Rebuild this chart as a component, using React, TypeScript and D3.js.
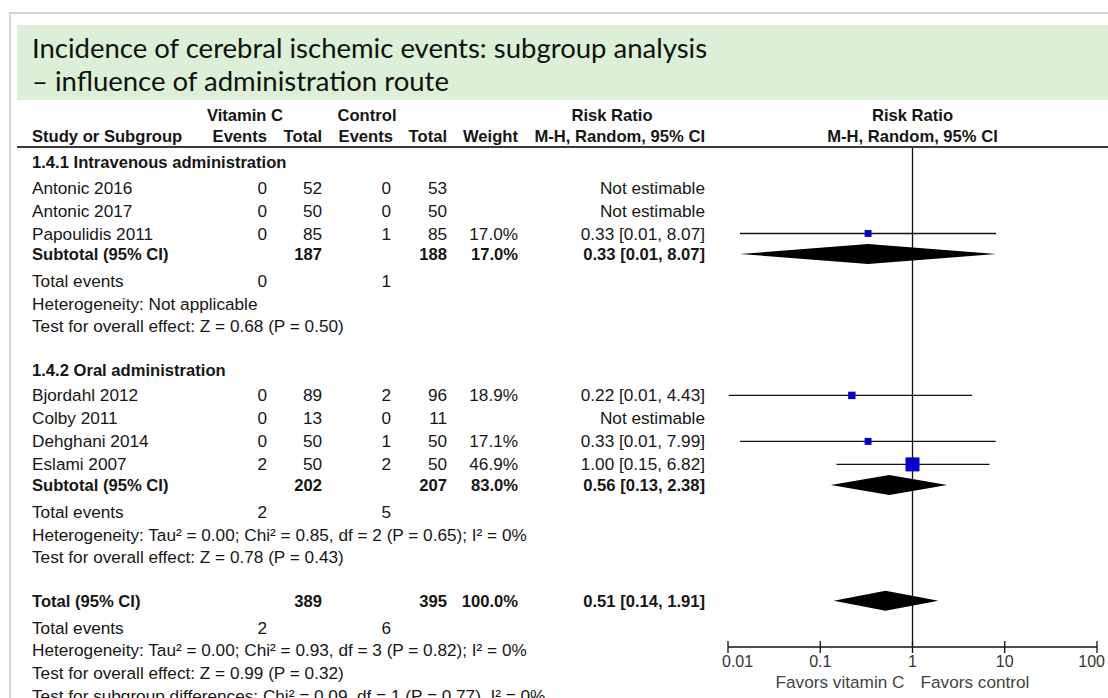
import React, { useLayoutEffect } from "react";
import * as d3 from "d3";

// title
const titleLines = [
  "Incidence of cerebral ischemic events: subgroup analysis",
  "\u2013 influence of administration route",
];

// subgroups
const subgroupLabels = ["1.4.1 Intravenous administration", "1.4.2 Oral administration"];
const subVitTotal = [187, 202];
const subCtlTotal = [188, 207];
const subWeight = [17.0, 83.0];
const subRR = [0.33, 0.56];
const subLo = [0.0135, 0.13];
const subHi = [8.07, 2.38];
const subVitEvents = [0, 2];
const subCtlEvents = [1, 5];
const subHetero = [
  "Not applicable",
  "Tau\u00b2 = 0.00; Chi\u00b2 = 0.85, df = 2 (P = 0.65); I\u00b2 = 0%",
];
const subOverall = ["Z = 0.68 (P = 0.50)", "Z = 0.78 (P = 0.43)"];

// studies
const studyLabels = ["Antonic 2016", "Antonic 2017", "Papoulidis 2011", "Bjordahl 2012", "Colby 2011", "Dehghani 2014", "Eslami 2007"];
const studyGroup = [0, 0, 0, 1, 1, 1, 1];
const vitEvents = [0, 0, 0, 0, 0, 0, 2];
const vitTotal = [52, 50, 85, 89, 13, 50, 50];
const ctlEvents = [0, 0, 1, 2, 0, 1, 2];
const ctlTotal = [53, 50, 85, 96, 11, 50, 50];
const studyWeight = [null, null, 17.0, 18.9, null, 17.1, 46.9];
const studyRR = [null, null, 0.33, 0.22, null, 0.33, 1.0];
const studyLo = [null, null, 0.0135, 0.0102, null, 0.0135, 0.15];
const studyHi = [null, null, 8.07, 4.43, null, 7.99, 6.82];

// overall
const totVitTotal = 389;
const totCtlTotal = 395;
const totWeight = 100.0;
const totRR = 0.51;
const totLo = 0.14;
const totHi = 1.91;
const totVitEvents = 2;
const totCtlEvents = 6;
const totHetero = "Tau\u00b2 = 0.00; Chi\u00b2 = 0.93, df = 3 (P = 0.82); I\u00b2 = 0%";
const totOverall = "Z = 0.99 (P = 0.32)";
const subgroupDiff = "Chi\u00b2 = 0.09, df = 1 (P = 0.77), I\u00b2 = 0%";

// axis
const axisTicks = [0.01, 0.1, 1, 10, 100];
const axisTickLabels = ["0.01", "0.1", "1", "10", "100"];
const favorsLeft = "Favors vitamin C";
const favorsRight = "Favors control";

const W = 1108;
const H = 698;
const FONT = "'Liberation Sans', Arial, sans-serif";
const FS_B = 16.6; // bold
const FS_R = 17.2; // regular
const INK = "#161616";

const f2 = d3.format(".2f");
const f1 = d3.format(".1f");
const ciText = (rr, lo, hi) => `${f2(rr)} [${f2(lo)}, ${f2(hi)}]`;

// column anchors
const col = {
  label: 32,
  vitEv: 267,
  vitTot: 322,
  ctlEv: 391,
  ctlTot: 447,
  weight: 518,
  ci: 705,
};

// build the row list
function buildRows() {
  const rows = [];
  subgroupLabels.forEach((lab, g) => {
    rows.push({ kind: "heading", text: lab });
    studyLabels.forEach((s, i) => {
      if (studyGroup[i] === g) rows.push({ kind: "study", i });
    });
    rows.push({ kind: "subtotal", g });
    rows.push({ kind: "events", vit: subVitEvents[g], ctl: subCtlEvents[g] });
    rows.push({ kind: "info", text: "Heterogeneity: " + subHetero[g] });
    rows.push({ kind: "info", text: "Test for overall effect: " + subOverall[g] });
  });
  rows.push({ kind: "total" });
  rows.push({ kind: "events", vit: totVitEvents, ctl: totCtlEvents });
  rows.push({ kind: "info", text: "Heterogeneity: " + totHetero });
  rows.push({ kind: "info", text: "Test for overall effect: " + totOverall });
  rows.push({ kind: "info", text: "Test for subgroup differences: " + subgroupDiff });

  // vertical advance depends on what follows what
  const step = (prev, cur) => {
    if (prev === "heading") return 25.5;
    if (prev === "study" && cur === "study") return 23;
    if (prev === "study") return 20.5;
    if (prev === "subtotal" || prev === "total") return 26.8;
    if (cur === "heading" || cur === "total") return 43.5;
    return 22.8;
  };
  let y = 162;
  rows.forEach((r, k) => {
    if (k > 0) y += step(rows[k - 1].kind, r.kind);
    r.y = y;
  });
  return rows;
}

const x = d3.scaleLog().domain([0.01, 100]).range([728, 1097]);
const boxSize = d3.scalePow().exponent(0.7).domain([0, 46.9]).range([0, 14]);

const T = ({ x, y, anchor = "start", bold = false, children, size = null, fill = INK }) => (
  <text
    x={x}
    y={y}
    textAnchor={anchor}
    fontWeight={bold ? "bold" : "normal"}
    fontSize={size ?? (bold ? FS_B : FS_R)}
    fontFamily={FONT}
    fill={fill}
  >
    {children}
  </text>
);

const Diamond = ({ rr, lo, hi, cy }) => {
  const pts = [
    [x(lo), cy],
    [x(rr), cy - 10],
    [x(hi), cy],
    [x(rr), cy + 10],
  ];
  return <path d={d3.line()(pts) + "Z"} fill="#000" />;
};

const App = () => {
  useLayoutEffect(() => {
    document.body.style.margin = "0";
  }, []);

  const rows = buildRows();
  const axisY = 647;
  const base = 6; // baseline offset from row centre

  return (
    <svg width={W} height={H} style={{ display: "block", background: "#fff" }}>
      {/* slide frame and title band */}
      <rect x={10} y={13} width={W} height={H} fill="none" stroke="#d4d4d4" strokeWidth={2} />
      <rect x={17} y={25} width={W - 17} height={75} fill="#dcefd7" />
      {titleLines.map((t, i) => (
        <text key={i} x={32} y={58 + i * 33} fontFamily="Lato, 'Open Sans', sans-serif" fontSize={27.5} fill="#111">
          {t}
        </text>
      ))}

      {/* header */}
      <T x={245} y={121} anchor="middle" bold>Vitamin C</T>
      <T x={367} y={121} anchor="middle" bold>Control</T>
      <T x={612} y={121} anchor="middle" bold>Risk Ratio</T>
      <T x={x(1)} y={121} anchor="middle" bold>Risk Ratio</T>
      <T x={col.label} y={142} bold>Study or Subgroup</T>
      <T x={col.vitEv} y={142} anchor="end" bold>Events</T>
      <T x={col.vitTot} y={142} anchor="end" bold>Total</T>
      <T x={col.ctlEv + 2} y={142} anchor="end" bold>Events</T>
      <T x={col.ctlTot} y={142} anchor="end" bold>Total</T>
      <T x={col.weight} y={142} anchor="end" bold>Weight</T>
      <T x={col.ci} y={142} anchor="end" bold>M-H, Random, 95% CI</T>
      <T x={x(1)} y={142} anchor="middle" bold>M-H, Random, 95% CI</T>
      <line x1={17} x2={W} y1={147} y2={147} stroke="#3a3a3a" strokeWidth={2.2} />

      {/* line of no effect */}
      <line x1={x(1)} x2={x(1)} y1={148} y2={axisY} stroke="#111" strokeWidth={1.3} />

      {rows.map((r, k) => {
        const ty = r.y + base;
        if (r.kind === "heading") {
          return <T key={k} x={col.label} y={ty} bold>{r.text}</T>;
        }
        if (r.kind === "study") {
          const i = r.i;
          const est = studyRR[i] != null;
          const s = est ? boxSize(studyWeight[i]) : 0;
          return (
            <g key={k}>
              <T x={col.label} y={ty}>{studyLabels[i]}</T>
              <T x={col.vitEv} y={ty} anchor="end">{vitEvents[i]}</T>
              <T x={col.vitTot} y={ty} anchor="end">{vitTotal[i]}</T>
              <T x={col.ctlEv} y={ty} anchor="end">{ctlEvents[i]}</T>
              <T x={col.ctlTot} y={ty} anchor="end">{ctlTotal[i]}</T>
              {est && <T x={col.weight} y={ty} anchor="end">{f1(studyWeight[i]) + "%"}</T>}
              <T x={col.ci} y={ty} anchor="end">
                {est ? ciText(studyRR[i], studyLo[i], studyHi[i]) : "Not estimable"}
              </T>
              {est && (
                <g>
                  <line x1={x(studyLo[i])} x2={x(studyHi[i])} y1={r.y} y2={r.y} stroke="#111" strokeWidth={1.4} />
                  <rect x={x(studyRR[i]) - s / 2} y={r.y - s / 2} width={s} height={s} fill="#0000cc" />
                </g>
              )}
            </g>
          );
        }
        if (r.kind === "subtotal") {
          const g = r.g;
          return (
            <g key={k}>
              <T x={col.label} y={ty} bold>Subtotal (95% CI)</T>
              <T x={col.vitTot} y={ty} anchor="end" bold>{subVitTotal[g]}</T>
              <T x={col.ctlTot} y={ty} anchor="end" bold>{subCtlTotal[g]}</T>
              <T x={col.weight} y={ty} anchor="end" bold>{f1(subWeight[g]) + "%"}</T>
              <T x={col.ci} y={ty} anchor="end" bold>{ciText(subRR[g], subLo[g], subHi[g])}</T>
              <Diamond rr={subRR[g]} lo={subLo[g]} hi={subHi[g]} cy={r.y} />
            </g>
          );
        }
        if (r.kind === "total") {
          return (
            <g key={k}>
              <T x={col.label} y={ty} bold>Total (95% CI)</T>
              <T x={col.vitTot} y={ty} anchor="end" bold>{totVitTotal}</T>
              <T x={col.ctlTot} y={ty} anchor="end" bold>{totCtlTotal}</T>
              <T x={col.weight} y={ty} anchor="end" bold>{f1(totWeight) + "%"}</T>
              <T x={col.ci} y={ty} anchor="end" bold>{ciText(totRR, totLo, totHi)}</T>
              <Diamond rr={totRR} lo={totLo} hi={totHi} cy={r.y} />
            </g>
          );
        }
        if (r.kind === "events") {
          return (
            <g key={k}>
              <T x={col.label} y={ty}>Total events</T>
              <T x={col.vitEv} y={ty} anchor="end">{r.vit}</T>
              <T x={col.ctlEv} y={ty} anchor="end">{r.ctl}</T>
            </g>
          );
        }
        return <T key={k} x={col.label} y={ty}>{r.text}</T>;
      })}

      {/* axis */}
      <line x1={x(0.01)} x2={x(100)} y1={axisY} y2={axisY} stroke="#111" strokeWidth={1.3} />
      {axisTicks.map((t, i) => {
        const last = i === axisTicks.length - 1;
        const first = i === 0;
        return (
          <g key={t}>
            <line x1={x(t)} x2={x(t)} y1={axisY - 6} y2={axisY + 6} stroke="#111" strokeWidth={1.3} />
            <T
              x={first ? x(t) - 6 : last ? x(t) + 8 : x(t)}
              y={axisY + 20}
              anchor={first ? "start" : last ? "end" : "middle"}
              size={16}
              fill="#333"
            >
              {axisTickLabels[i]}
            </T>
          </g>
        );
      })}
      <T x={x(1) - 8} y={axisY + 41} anchor="end" size={17.2} fill="#444">{favorsLeft}</T>
      <T x={x(1) + 8} y={axisY + 41} size={17.2} fill="#444">{favorsRight}</T>
    </svg>
  );
};

export default App;
